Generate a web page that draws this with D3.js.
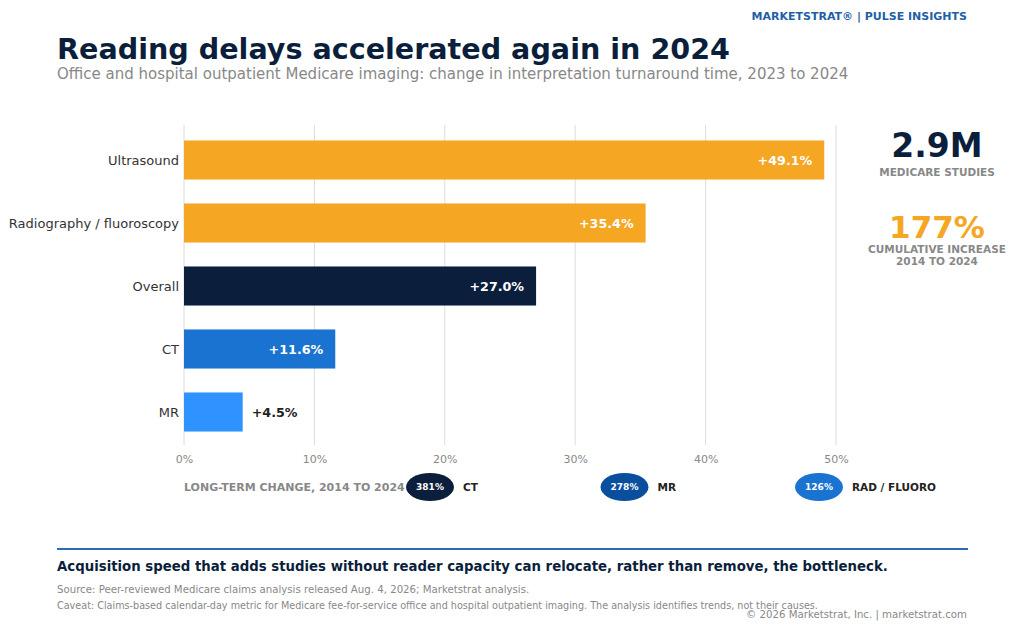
<!DOCTYPE html>
<html>
<head>
<meta charset="utf-8">
<script src="https://cdn.jsdelivr.net/npm/d3@7"></script>
<style>
  html, body { margin: 0; padding: 0; background: #fff; }
  svg { display: block; font-family: "DejaVu Sans", sans-serif; }
</style>
</head>
<body>
<svg id="chart" width="1024" height="629"></svg>
<script>
// turnaround change 2023 -> 2024, percent
const categories = ['Ultrasound', 'Radiography / fluoroscopy', 'Overall', 'CT', 'MR'];
const changes = [49.1, 35.4, 27.0, 11.6, 4.5];
const xTicks = [0, 10, 20, 30, 40, 50];

// long-term change, 2014 to 2024
const longTermLabels = ['CT', 'MR', 'RAD / FLUORO'];
const longTermValues = [381, 278, 126];

// headline stats
const statValues = ['2.9M', '177%'];
const statLabels = [['MEDICARE STUDIES'], ['CUMULATIVE INCREASE', '2014 TO 2024']];

const navy = '#0b1f3c';
const barColors = {
  'Ultrasound': '#f5a623',
  'Radiography / fluoroscopy': '#f5a623',
  'Overall': navy,
  'CT': '#1a73d0',
  'MR': '#2e93ff'
};
const pillColors = [navy, '#0a4f9e', '#1a73d0'];

const svg = d3.select('#chart');

// header
svg.append('text')
  .attr('x', 967).attr('y', 20)
  .attr('text-anchor', 'end')
  .attr('font-size', 11).attr('font-weight', 'bold')
  .attr('fill', '#1f5fa8')
  .text('MARKETSTRAT®  |  PULSE INSIGHTS');

svg.append('text')
  .attr('x', 57).attr('y', 59)
  .attr('font-size', 28.6).attr('font-weight', 'bold')
  .attr('fill', navy)
  .text('Reading delays accelerated again in 2024');

svg.append('text')
  .attr('x', 57).attr('y', 79)
  .attr('font-size', 15)
  .attr('fill', '#888')
  .text('Office and hospital outpatient Medicare imaging: change in interpretation turnaround time, 2023 to 2024');

// scales
const x = d3.scaleLinear().domain([0, 50]).range([184, 836]);
const y = d3.scaleBand()
  .domain(categories)
  .range([128.5, 443.5])
  .paddingInner(0.38)
  .paddingOuter(0.19);

// grid
svg.append('g')
  .selectAll('line')
  .data(xTicks)
  .join('line')
  .attr('x1', d => x(d)).attr('x2', d => x(d))
  .attr('y1', 125).attr('y2', 445)
  .attr('stroke', '#dcdcdc').attr('stroke-width', 1);

// x axis labels
const xAxis = d3.axisBottom(x)
  .tickValues(xTicks)
  .tickFormat(d => d + '%')
  .tickSize(0)
  .tickPadding(9);

svg.append('g')
  .attr('transform', 'translate(0,446)')
  .call(xAxis)
  .call(g => g.select('.domain').remove())
  .call(g => g.selectAll('text')
    .attr('font-family', '"DejaVu Sans", sans-serif')
    .attr('font-size', 11)
    .attr('fill', '#888'));

// y axis labels
const yAxis = d3.axisLeft(y).tickSize(0).tickPadding(5);
svg.append('g')
  .attr('transform', 'translate(184,0)')
  .call(yAxis)
  .call(g => g.select('.domain').remove())
  .call(g => g.selectAll('text')
    .attr('font-family', '"DejaVu Sans", sans-serif')
    .attr('font-size', 13)
    .attr('dy', '0.4em')
    .attr('fill', '#333'));

const rows = categories.map((c, i) => ({ cat: c, value: changes[i] }));

svg.append('g')
  .selectAll('rect')
  .data(rows)
  .join('rect')
  .attr('x', x(0))
  .attr('y', d => y(d.cat))
  .attr('width', d => x(d.value) - x(0))
  .attr('height', y.bandwidth())
  .attr('fill', d => barColors[d.cat]);

svg.append('g')
  .selectAll('text')
  .data(rows)
  .join('text')
  .attr('x', d => d.value > 8 ? x(d.value) - 12 : x(d.value) + 9)
  .attr('y', d => y(d.cat) + y.bandwidth() / 2)
  .attr('dy', '0.36em')
  .attr('text-anchor', d => d.value > 8 ? 'end' : 'start')
  .attr('font-size', 12.7).attr('font-weight', 'bold')
  .attr('fill', d => d.value > 8 ? '#fff' : '#222')
  .text(d => '+' + d.value.toFixed(1) + '%');

// right stats panel
const statY = [157, 238];
const statSize = [33, 31];
const statLabelY = [176, 253];
const statColors = [navy, '#f5a623'];
const stats = svg.append('g');
statValues.forEach((v, i) => {
  stats.append('text')
    .attr('x', 937).attr('y', statY[i])
    .attr('text-anchor', 'middle')
    .attr('font-size', statSize[i]).attr('font-weight', 'bold')
    .attr('fill', statColors[i])
    .text(v);
  statLabels[i].forEach((l, j) => {
    stats.append('text')
      .attr('x', 937).attr('y', statLabelY[i] + j * 12)
      .attr('text-anchor', 'middle')
      .attr('font-size', 10.5).attr('font-weight', 'bold')
      .attr('fill', '#888')
      .text(l);
  });
});

// long-term row
svg.append('text')
  .attr('x', 184).attr('y', 491)
  .attr('font-size', 11).attr('font-weight', 'bold')
  .attr('fill', '#888')
  .text('LONG-TERM CHANGE, 2014 TO 2024');

const pillX = d3.scalePoint().domain(longTermLabels).range([430, 819]);
const pills = svg.append('g')
  .selectAll('g')
  .data(longTermLabels.map((l, i) => ({ label: l, value: longTermValues[i], color: pillColors[i] })))
  .join('g')
  .attr('transform', d => `translate(${pillX(d.label)},487)`);

pills.append('ellipse')
  .attr('rx', 24).attr('ry', 14)
  .attr('fill', d => d.color);

pills.append('text')
  .attr('text-anchor', 'middle')
  .attr('dy', '0.36em')
  .attr('font-size', 9).attr('font-weight', 'bold')
  .attr('fill', '#fff')
  .text(d => d.value + '%');

pills.append('text')
  .attr('x', 33)
  .attr('dy', '0.36em')
  .attr('font-size', 10.5).attr('font-weight', 'bold')
  .attr('fill', '#222')
  .text(d => d.label);

// footer
svg.append('line')
  .attr('x1', 57).attr('x2', 968)
  .attr('y1', 549).attr('y2', 549)
  .attr('stroke', '#2a6db5').attr('stroke-width', 2);

svg.append('text')
  .attr('x', 57).attr('y', 571)
  .attr('font-size', 13.3).attr('font-weight', 'bold')
  .attr('fill', navy)
  .text('Acquisition speed that adds studies without reader capacity can relocate, rather than remove, the bottleneck.');

svg.append('text')
  .attr('x', 57).attr('y', 593)
  .attr('font-size', 10.2)
  .attr('fill', '#888')
  .text('Source: Peer-reviewed Medicare claims analysis released Aug. 4, 2026; Marketstrat analysis.');

svg.append('text')
  .attr('x', 57).attr('y', 609)
  .attr('font-size', 9.65)
  .attr('fill', '#888')
  .text('Caveat: Claims-based calendar-day metric for Medicare fee-for-service office and hospital outpatient imaging. The analysis identifies trends, not their causes.');

svg.append('text')
  .attr('x', 967).attr('y', 618)
  .attr('text-anchor', 'end')
  .attr('font-size', 10.2)
  .attr('fill', '#888')
  .text('© 2026 Marketstrat, Inc. | marketstrat.com');
</script>
</body>
</html>
